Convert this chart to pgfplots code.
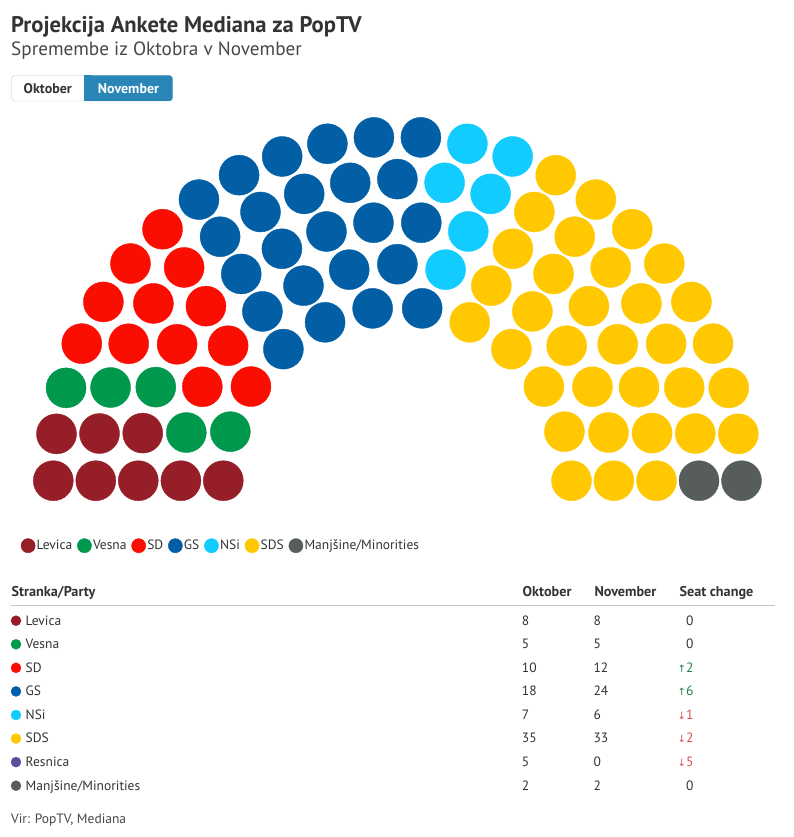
\documentclass[border=0pt]{standalone}
\usepackage{fontspec}
\setmainfont{PT Sans}
\newfontfamily\symfont{DejaVu Sans}
\usepackage{pgfplots}
\pgfplotsset{compat=1.18}
\definecolor{levica}{RGB}{150,30,40}
\definecolor{vesna}{RGB}{0,152,76}
\definecolor{sd}{RGB}{250,14,2}
\definecolor{gs}{RGB}{2,94,165}
\definecolor{nsi}{RGB}{18,204,255}
\definecolor{sds}{RGB}{255,200,0}
\definecolor{manj}{RGB}{87,92,92}
\definecolor{resnica}{RGB}{95,75,155}
\definecolor{btnblue}{RGB}{41,134,182}
\definecolor{txt}{RGB}{51,51,51}
\definecolor{up}{RGB}{40,125,75}
\definecolor{down}{RGB}{222,75,75}
\newcommand{\fs}[1]{\fontsize{#1}{#1}\selectfont}
\begin{document}
\begin{tikzpicture}
\begin{axis}[
  x=1pt, y=1pt, xmin=0, xmax=794, ymin=0, ymax=837, y dir=reverse,
  hide axis, clip=false,
  legend style={at={(axis cs:21,545.7)}, anchor=west, draw=none, fill=none,
    legend columns=-1, inner sep=0pt, outer sep=0pt, text=txt,
    font=\fs{13.5},
    /tikz/every odd column/.append style={column sep=1.5pt},
    /tikz/every even column/.append style={column sep=5pt},
    nodes={inner sep=0pt}},
  legend image code/.code={\draw[#1,mark size=7.1pt] plot coordinates {(7.3pt,0pt)};},
]
\path (rel axis cs:0,0) rectangle (rel axis cs:1,1);
% Levica
\addplot[only marks, mark=*, mark size=20pt, color=levica] coordinates {
 (53.3,480.7) (56.50,433.85) (95.8,480.7) (99.51,433.52) (138.3,480.7) (142.71,433.09) (180.9,480.7) (223.3,480.7)};
\addlegendentry{Levica}
% Vesna
\addplot[only marks, mark=*, mark size=20pt, color=vesna] coordinates {
 (66.06,387.86) (110.56,387.50) (155.79,387.10) (186.33,432.52) (230.35,431.65)};
\addlegendentry{Vesna}
% SD
\addplot[only marks, mark=*, mark size=20pt, color=sd] coordinates {
 (81.79,343.61) (103.39,301.91) (130.47,263.54) (162.53,229.22)
 (128.67,343.78) (153.40,303.42) (184.14,267.44)
 (177.11,344.30) (205.92,306.14)
 (202.34,386.76) (228.13,345.71)
 (250.94,386.57)};
\addlegendentry{SD}
% GS
\addplot[only marks, mark=*, mark size=20pt, color=gs] coordinates {
 (198.96,199.58) (239.09,175.18) (282.17,156.47) (327.39,143.79) (373.92,137.40) (420.88,137.40)
 (220.12,236.70) (260.48,211.97) (304.20,193.86) (350.22,182.81) (397.4,179.1)
 (241.26,273.93) (281.91,248.76) (326.49,231.49) (373.49,222.70) (421.31,222.70)
 (262.41,311.43) (303.46,285.64) (349.22,269.63) (397.4,264.2)
 (283.39,349.12) (325.08,322.33) (372.62,308.37) (422.18,308.37)};
\addlegendentry{GS}
% NSi
\addplot[only marks, mark=*, mark size=20pt, color=nsi] coordinates {
 (467.41,143.79) (512.63,156.47) (444.58,182.81) (490.60,193.86) (468.31,231.49) (445.58,269.63)};
\addlegendentry{NSi}
% SDS
\addplot[only marks, mark=*, mark size=20pt, color=sds] coordinates {
 (555.71,175.18) (595.84,199.58) (632.27,229.22) (664.33,263.54) (691.41,301.91) (713.01,343.61) (728.74,387.86) (738.30,433.85)
 (534.32,211.97) (574.68,236.70) (610.66,267.44) (641.40,303.42) (666.13,343.78) (684.24,387.50) (695.29,433.52)
 (512.89,248.76) (553.54,273.93) (588.88,306.14) (617.69,344.30) (639.01,387.10) (652.09,433.09) (656.5,480.7)
 (491.34,285.64) (532.39,311.43) (566.67,345.71) (592.46,386.76) (608.47,432.52) (613.9,480.7)
 (469.72,322.33) (511.41,349.12) (543.86,386.57) (564.45,431.65) (571.5,480.7)};
\addlegendentry{SDS}
% Manjsine
\addplot[only marks, mark=*, mark size=20pt, color=manj] coordinates {
 (699.0,480.7) (741.5,480.7)};
\addlegendentry{Manjšine/Minorities}
% table dots
\addplot[forget plot, only marks, scatter, mark=*, mark size=5pt, point meta=explicit symbolic,
  scatter/classes={a={mark=*,fill=levica,draw=levica}, b={mark=*,fill=vesna,draw=vesna},
    c={mark=*,fill=sd,draw=sd}, d={mark=*,fill=gs,draw=gs}, e={mark=*,fill=nsi,draw=nsi},
    f={mark=*,fill=sds,draw=sds}, g={mark=*,fill=resnica,draw=resnica}, h={mark=*,fill=manj,draw=manj}}]
 coordinates {(16,620.7)[a] (16,644.3)[b] (16,667.8)[c] (16,691.4)[d] (16,715.0)[e] (16,738.6)[f] (16,762.1)[g] (16,785.7)[h]};

% titles
\node[anchor=base west, inner sep=0pt, text=txt, font=\fs{22.6}\bfseries] at (axis cs:11,33) {Projekcija Ankete Mediana za PopTV};
\node[anchor=base west, inner sep=0pt, text=txt!90, font=\fs{19.2}] at (axis cs:11,56) {Spremembe iz Oktobra v November};
% buttons
\draw[draw=black!22, fill=white, rounded corners=3pt] (axis cs:11.5,75.5) rectangle (axis cs:172.5,101);
\fill[btnblue, rounded corners=3pt] (axis cs:84,75.5) rectangle (axis cs:172.5,101);
\fill[btnblue] (axis cs:84,75.5) rectangle (axis cs:92,101);
\node[anchor=base, inner sep=0pt, text=txt, font=\fs{14}\bfseries] at (axis cs:47.8,94) {Oktober};
\node[anchor=base, inner sep=0pt, text=white, font=\fs{14}\bfseries] at (axis cs:128.5,94) {November};
% table header
\node[anchor=base west, inner sep=0pt, text=txt, font=\fs{14.2}\bfseries] at (axis cs:11.5,596.7) {Stranka/Party};
\node[anchor=base west, inner sep=0pt, text=txt, font=\fs{14.2}\bfseries] at (axis cs:522.5,596.7) {Oktober};
\node[anchor=base west, inner sep=0pt, text=txt, font=\fs{14.2}\bfseries] at (axis cs:594.3,596.7) {November};
\node[anchor=base west, inner sep=0pt, text=txt, font=\fs{14.2}\bfseries] at (axis cs:679.3,596.7) {Seat change};
\draw[black!22, line width=1pt] (axis cs:11,605.5) -- (axis cs:775,605.5);
% table rows
\begin{scope}[every node/.style={anchor=base west, inner sep=0pt, text=txt, font=\fs{13.5}}]
\node at (axis cs:25.5,625.0) {Levica};
\node at (axis cs:25.5,648.6) {Vesna};
\node at (axis cs:25.5,672.1) {SD};
\node at (axis cs:25.5,695.7) {GS};
\node at (axis cs:25.5,719.3) {NSi};
\node at (axis cs:25.5,742.9) {SDS};
\node at (axis cs:25.5,766.4) {Resnica};
\node at (axis cs:25.5,790.0) {Manjšine/Minorities};
\node at (axis cs:521.7,625.0) {8};
\node at (axis cs:521.7,648.6) {5};
\node at (axis cs:521.7,672.1) {10};
\node at (axis cs:521.7,695.7) {18};
\node at (axis cs:521.7,719.3) {7};
\node at (axis cs:521.7,742.9) {35};
\node at (axis cs:521.7,766.4) {5};
\node at (axis cs:521.7,790.0) {2};
\node at (axis cs:593.3,625.0) {8};
\node at (axis cs:593.3,648.6) {5};
\node at (axis cs:593.3,672.1) {12};
\node at (axis cs:593.3,695.7) {24};
\node at (axis cs:593.3,719.3) {6};
\node at (axis cs:593.3,742.9) {33};
\node at (axis cs:593.3,766.4) {0};
\node at (axis cs:593.3,790.0) {2};
\node at (axis cs:686,625.0) {0};
\node at (axis cs:686,648.6) {0};
\node[text=up] at (axis cs:686,672.1) {2};
\node[text=up] at (axis cs:686,695.7) {6};
\node[text=down] at (axis cs:686,719.3) {1};
\node[text=down] at (axis cs:686,742.9) {2};
\node[text=down] at (axis cs:686,766.4) {5};
\node at (axis cs:686,790.0) {0};
\node[text=up, font=\symfont\fs{10}] at (axis cs:677.5,672.1) {↑};
\node[text=up, font=\symfont\fs{10}] at (axis cs:677.5,695.7) {↑};
\node[text=down, font=\symfont\fs{10}] at (axis cs:677.5,719.3) {↓};
\node[text=down, font=\symfont\fs{10}] at (axis cs:677.5,742.9) {↓};
\node[text=down, font=\symfont\fs{10}] at (axis cs:677.5,766.4) {↓};
\node[text=txt!90] at (axis cs:11,823.5) {Vir: PopTV, Mediana};
\end{scope}
\end{axis}
\end{tikzpicture}
\end{document}
